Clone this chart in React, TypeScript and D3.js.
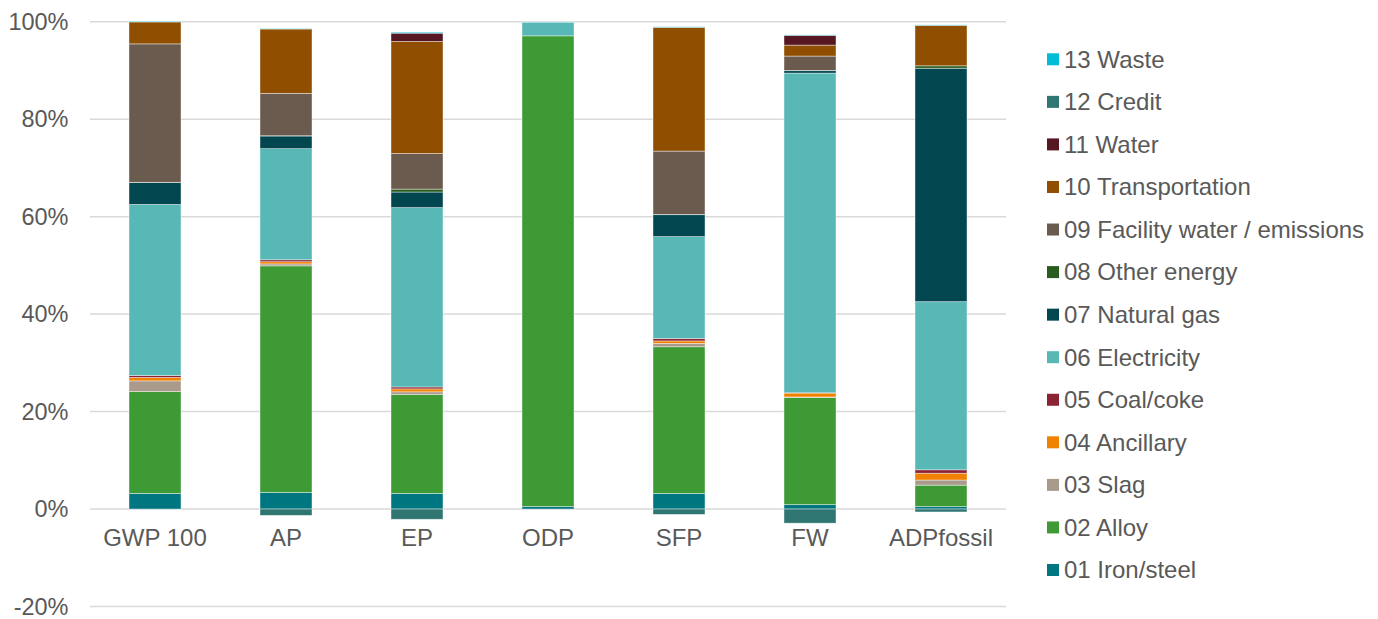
import React from "react";
import * as d3 from "d3";

// Impact categories (x axis)
const categories = ["GWP 100", "AP", "EP", "ODP", "SFP", "FW", "ADPfossil"];

// Contribution of each life-cycle stage, in %
const ironSteel = [3.2, 3.4, 3.2, 0.5, 3.2, 0.9, 0.5];
const alloy = [20.9, 46.5, 20.3, 96.6, 30.1, 22.0, 4.4];
const slag = [2.2, 0.4, 0.55, 0, 0.7, 0.1, 1.05];
const ancillary = [0.7, 0.45, 0.6, 0, 0.5, 0.8, 1.4];
const coalCoke = [0.4, 0.4, 0.4, 0, 0.5, 0.05, 0.7];
const electricity = [35.1, 22.8, 36.8, 2.8, 20.9, 65.6, 34.5];
const naturalGas = [4.5, 2.6, 3.2, 0, 4.5, 0.5, 47.9];
const otherEnergy = [0.05, 0.05, 0.6, 0, 0.05, 0.05, 0.5];
const facility = [28.4, 8.7, 7.3, 0, 13.0, 2.95, 0];
const transportation = [4.5, 13.2, 23.0, 0, 25.4, 2.25, 8.3];
const water = [0, 0, 1.7, 0, 0, 2.0, 0];
const credit = [0, -1.3, -2.1, 0, -1.1, -2.9, -0.6];
const waste = [0.15, 0.1, 0.2, 0.05, 0.1, 0.1, 0.1];

const seriesNames = [
  "01 Iron/steel",
  "02 Alloy",
  "03 Slag",
  "04 Ancillary",
  "05 Coal/coke",
  "06 Electricity",
  "07 Natural gas",
  "08 Other energy",
  "09 Facility water / emissions",
  "10 Transportation",
  "11 Water",
  "12 Credit",
  "13 Waste",
];
const seriesValues = [
  ironSteel, alloy, slag, ancillary, coalCoke, electricity, naturalGas,
  otherEnergy, facility, transportation, water, credit, waste,
];
const seriesColors = [
  "#007681", "#3D9A35", "#A99A8C", "#F08200", "#8B2335", "#57B8B6", "#02474F",
  "#285D1F", "#6B5B4E", "#8F4E00", "#561722", "#2F7572", "#00BCD4",
];

const yTicks = [-20, 0, 20, 40, 60, 80, 100];

const W = 1378;
const H = 619;
const FONT = "'Liberation Sans', Arial, sans-serif";
const TEXT = "#595959";

export default function App() {
  // one row per category, keyed by series name
  const rows = categories.map((c, i) => {
    const r: Record<string, any> = { category: c };
    seriesNames.forEach((s, j) => (r[s] = seriesValues[j][i]));
    return r;
  });

  const stack = d3
    .stack<any>()
    .keys(seriesNames)
    .offset(d3.stackOffsetDiverging);
  const layers = stack(rows);

  const x = d3
    .scaleBand()
    .domain(categories)
    .range([89.5, 1006.5])
    .paddingInner(0.603)
    .paddingOuter(0.3015);

  const y = d3.scaleLinear().domain([-20, 100]).range([606.5, 21.7]);

  const legendY = d3
    .scalePoint()
    .domain([...seriesNames].reverse())
    .range([59.3, 570]);

  return (
    <svg
      width={W}
      height={H}
      style={{ position: "absolute", left: 0, top: 0, background: "#fff" }}
      fontFamily={FONT}
    >
      {/* gridlines */}
      {yTicks.map((t) => (
        <line
          key={t}
          x1={90}
          x2={1006}
          y1={y(t)}
          y2={y(t)}
          stroke="#d9d9d9"
          strokeWidth={1.5}
        />
      ))}

      {/* y tick labels */}
      {yTicks.map((t) => (
        <text
          key={"l" + t}
          x={68.5}
          y={y(t)}
          dy="0.35em"
          textAnchor="end"
          fontSize={23.5}
          fill={TEXT}
        >
          {t + "%"}
        </text>
      ))}

      {/* stacked bars */}
      {layers.map((layer, i) => (
        <g key={layer.key} fill={seriesColors[i]}>
          {layer.map((d, j) => {
            const h = Math.abs(y(d[0]) - y(d[1]));
            if (h === 0) return null;
            return (
              <rect
                key={j}
                x={x(categories[j])}
                y={Math.min(y(d[0]), y(d[1]))}
                width={x.bandwidth()}
                height={h}
                stroke="#ffffff"
                strokeOpacity={0.55}
                strokeWidth={0.75}
              />
            );
          })}
        </g>
      ))}

      {/* category labels */}
      {categories.map((c) => (
        <text
          key={c}
          x={(x(c) as number) + x.bandwidth() / 2}
          y={538}
          dy="0.35em"
          textAnchor="middle"
          fontSize={24}
          fill={TEXT}
        >
          {c}
        </text>
      ))}

      {/* legend */}
      {seriesNames.map((s, i) => (
        <g key={s} transform={`translate(1047, ${legendY(s)})`}>
          <rect x={0} y={-6} width={12} height={12} fill={seriesColors[i]} />
          <text x={17} y={0} dy="0.35em" fontSize={24} fill={TEXT}>
            {s}
          </text>
        </g>
      ))}
    </svg>
  );
}
